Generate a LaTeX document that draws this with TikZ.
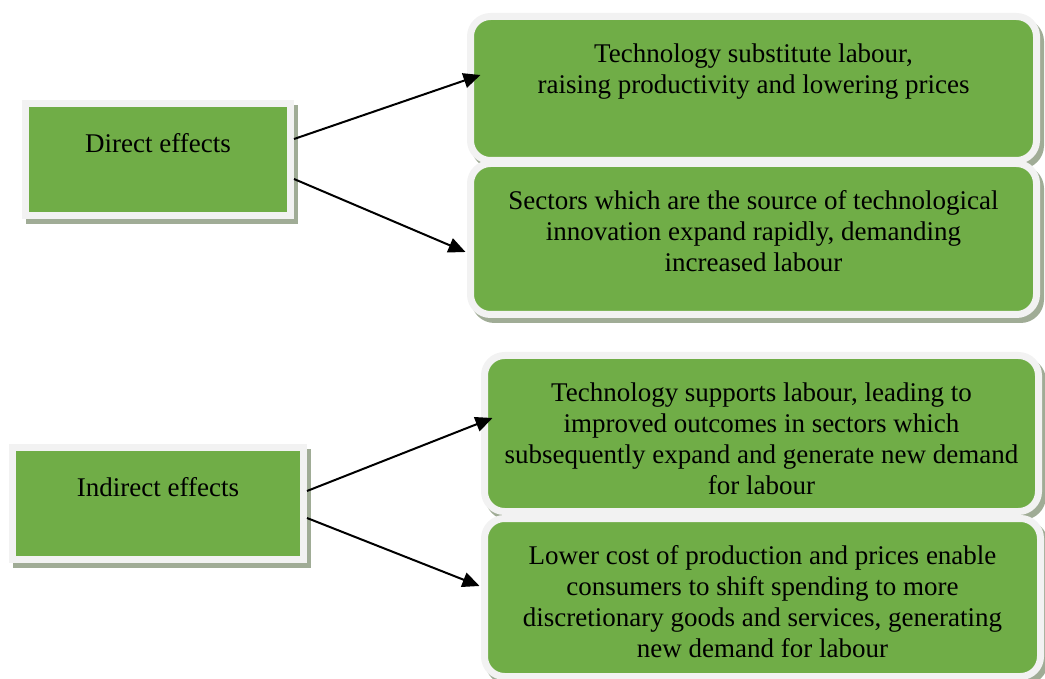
\documentclass[tikz,border=0pt]{standalone}
\usepackage{fontspec}
\setmainfont{Liberation Serif}
\usetikzlibrary{arrows.meta,positioning}

\definecolor{boxgreen}{RGB}{112,173,71}
\definecolor{rimgray}{RGB}{242,242,242}
\definecolor{shadegray}{RGB}{160,172,150}

\begin{document}
\begin{tikzpicture}[x=0.5pt,y=-0.5pt,
    effect/.style={fill=boxgreen, draw=rimgray, line width=3.5pt,
        preaction={draw=shadegray, fill=shadegray, line width=3.5pt,
            transform canvas={shift={(2pt,-2.5pt)}}}},
    cause/.style={effect, minimum height=56pt},
    result/.style={effect, rounded corners=10pt},
    caption/.style={inner sep=0pt, align=center, font=\fontsize{13.5}{15.5}\selectfont},
    link/.style={-{Triangle[length=8.5pt,width=7.5pt]}, line width=1pt}]
    \useasboundingbox (0,0) rectangle (1045,679);

    % Left column: the two kinds of effect
    \node[cause, minimum width=132.5pt] (direct) at (158,159.5) {};
    \node[cause, minimum width=145.5pt] (indirect) at (158,503.5) {};

    \node[caption, below=16.5pt of direct.north] (directtext) {Direct effects};
    \node[caption, below=16.5pt of indirect.north] (indirecttext) {Indirect effects};

    % Right column: what each effect leads to
    \node[result, minimum width=283pt, minimum height=72pt] (subst) at (753.5,88.5) {};
    \node[result, minimum width=283pt, minimum height=75.5pt] (sectors) at (753.5,239) {};
    \node[result, minimum width=277pt, minimum height=78pt] (support) at (761.5,433.5) {};
    \node[result, minimum width=278pt, minimum height=79pt] (spending) at (762.5,597.5) {};

    \node[caption, below=15pt of subst.north] (substtext)
        {Technology substitute labour,\\ raising productivity and lowering prices};
    \node[caption, below=15pt of sectors.north] (sectorstext)
        {Sectors which are the source of technological\\ innovation expand rapidly, demanding\\ increased labour};
    \node[caption, below=15pt of support.north] (supporttext)
        {Technology supports labour, leading to\\ improved outcomes in sectors which\\ subsequently expand and generate new demand\\ for labour};
    \node[caption, below=15pt of spending.north] (spendingtext)
        {Lower cost of production and prices enable\\ consumers to shift spending to more\\ discretionary goods and services, generating\\ new demand for labour};

    % Arrows
    \draw[link] ([yshift=10.25pt]direct.east) -- ([xshift=6.75pt,yshift=6.75pt]subst.west);
    \draw[link] ([yshift=-9.75pt]direct.east) -- ([xshift=-0.75pt,yshift=-6.5pt]sectors.west);
    \draw[link] ([yshift=6.25pt]indirect.east) -- ([xshift=5.75pt,yshift=7.75pt]support.west);
    \draw[link] ([yshift=-7.25pt]indirect.east) -- ([xshift=-0.75pt,yshift=5.75pt]spending.west);
\end{tikzpicture}
\end{document}
